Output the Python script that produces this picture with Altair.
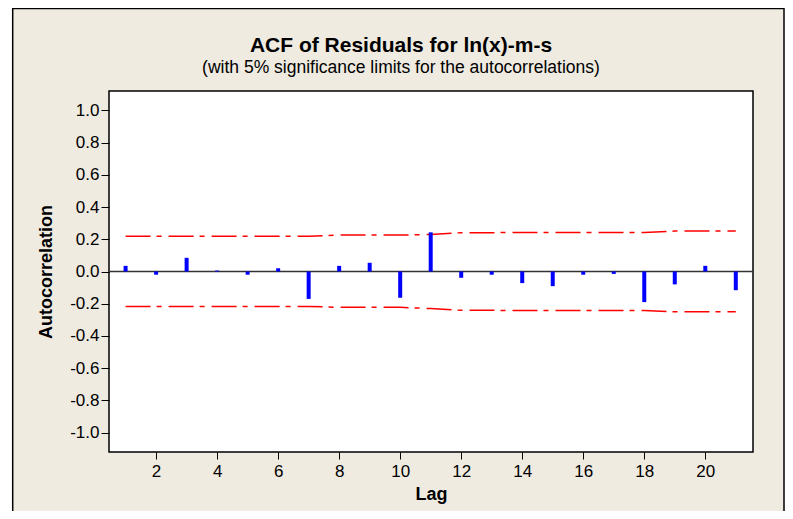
import altair as alt
import pandas as pd

# ---- data ----
lags = list(range(1, 22))
acf = [0.035, -0.02, 0.085, 0.006, -0.02, 0.02, -0.17, 0.035, 0.054, -0.163,
       0.243, -0.039, -0.02, -0.072, -0.091, -0.02, -0.015, -0.19, -0.08, 0.035, -0.116]
upper = [0.219, 0.219, 0.219, 0.219, 0.219, 0.219, 0.219, 0.226, 0.226, 0.226,
         0.230, 0.241, 0.241, 0.242, 0.242, 0.242, 0.242, 0.242, 0.251, 0.251, 0.251]
lower = [-0.217, -0.217, -0.217, -0.217, -0.217, -0.217, -0.217, -0.222, -0.222, -0.222,
         -0.230, -0.241, -0.241, -0.242, -0.242, -0.242, -0.242, -0.242, -0.250, -0.250, -0.250]
x_ticks = [2, 4, 6, 8, 10, 12, 14, 16, 18, 20]
y_ticks = [-1.0, -0.8, -0.6, -0.4, -0.2, 0.0, 0.2, 0.4, 0.6, 0.8, 1.0]

title_text = "ACF of Residuals for ln(x)-m-s"
subtitle_text = "(with 5% significance limits for the autocorrelations)"

W, H = 644, 361
FONT = "Liberation Sans"
BEIGE = "#efebe0"

bars_df = pd.DataFrame({"Lag": lags, "ACF": acf})
lim_df = pd.concat([
    pd.DataFrame({"Lag": lags, "v": upper, "s": "upper"}),
    pd.DataFrame({"Lag": lags, "v": lower, "s": "lower"}),
])
one = pd.DataFrame({"a": [0]})

xscale = alt.Scale(domain=[0.62, 21.4], nice=False, zero=False)
yscale = alt.Scale(domain=[-1.12, 1.12], nice=False)

common = dict(grid=False, domain=False, tickColor="black", zindex=1, labelOverlap=False,
              labelFont=FONT, labelFontSize=17, labelColor="black",
              titleFont=FONT, titleFontSize=18, titleFontWeight="bold", titleColor="black")

xaxis = alt.Axis(values=x_ticks, format="d", title="Lag", tickSize=7, labelPadding=4,
                 titleX=W / 2, titleY=47, titleBaseline="alphabetic", titleAlign="center",
                 **common)
yaxis = alt.Axis(values=y_ticks, title="Autocorrelation", tickSize=8, labelPadding=2,
                 labelExpr="replace(format(datum.value, '.1f'), '\u2212', '-')",
                 titleX=-63, titleY=H / 2, titleBaseline="middle", titleAlign="center",
                 titleAngle=270, **common)

frame = alt.Chart(one).mark_rect(fill=BEIGE, stroke="black", strokeWidth=1.5).encode(
    x=alt.value(-96.3), x2=alt.value(675), y=alt.value(-82.5), y2=alt.value(440))

plotbox = alt.Chart(one).mark_rect(fill="white", stroke="black", strokeWidth=1.5).encode(
    x=alt.value(0), x2=alt.value(W), y=alt.value(0), y2=alt.value(H))

title = alt.Chart(one).mark_text(text=title_text, font=FONT, fontSize=21, fontWeight="bold",
                                 align="center", baseline="alphabetic", color="black").encode(
    x=alt.value(292), y=alt.value(-39))
subtitle = alt.Chart(one).mark_text(text=subtitle_text, font=FONT, fontSize=17.5,
                                    align="center", baseline="alphabetic", color="black").encode(
    x=alt.value(292), y=alt.value(-18.3))

limits = alt.Chart(lim_df).mark_line(color="#ff0000", strokeWidth=1.5,
                                     strokeDash=[25, 6, 5, 7]).encode(
    x=alt.X("Lag:Q", scale=xscale, axis=xaxis),
    y=alt.Y("v:Q", scale=yscale, axis=yaxis),
    detail="s:N")

zero = alt.Chart(one).mark_rule(color="#333333", strokeWidth=1.5).encode(
    y=alt.datum(0, scale=yscale, axis=yaxis))

bars = alt.Chart(bars_df).mark_bar(color="#0000ff", size=4).encode(
    x=alt.X("Lag:Q", scale=xscale, axis=xaxis),
    y=alt.Y("ACF:Q", scale=yscale, axis=yaxis))

chart = alt.layer(frame, plotbox, title, subtitle, limits, zero, bars).properties(
    width=W, height=H,
    autosize=alt.AutoSizeParams(type="none"),
    padding={"left": 101, "top": 83, "right": 32, "bottom": 59},
).configure_view(stroke=None)

chart.save("out.html", embed_options={"renderer": "svg", "actions": False})
